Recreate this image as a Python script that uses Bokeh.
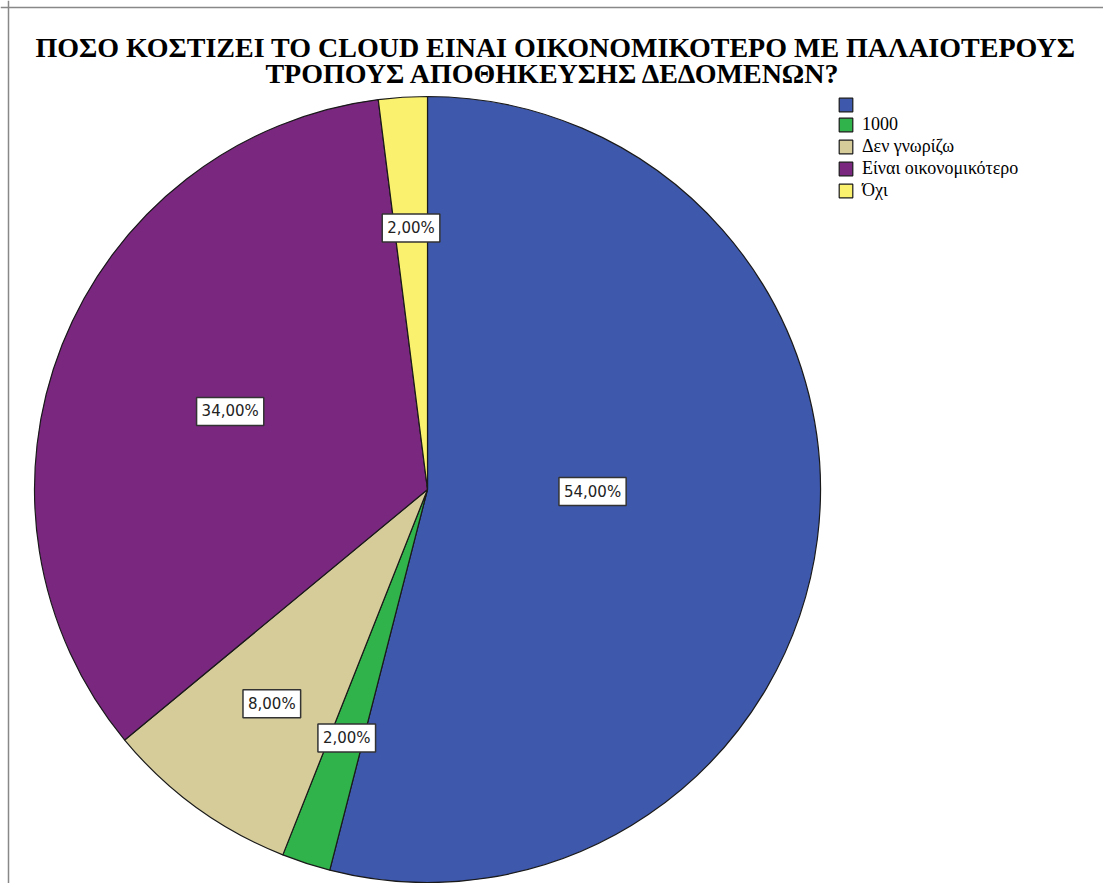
import math
from bokeh.plotting import figure
from bokeh.models import Range1d, Legend, LegendItem, Span, ColumnDataSource
from bokeh.core.properties import value
from bokeh.embed import file_html
from bokeh.resources import INLINE

# ---- data ----
categories = ["", "1000", "Δεν γνωρίζω", "Είναι οικονομικότερο", "Όχι"]
percents = [54.0, 2.0, 8.0, 34.0, 2.0]
colors = ["#3E58AC", "#2FB34A", "#D5CC9A", "#7A2780", "#FAF26E"]
title_lines = ["ΠΟΣΟ ΚΟΣΤΙΖΕΙ ΤΟ CLOUD ΕΙΝΑΙ ΟΙΚΟΝΟΜΙΚΟΤΕΡΟ ΜΕ ΠΑΛΑΙΟΤΕΡΟΥΣ",
               "ΤΡΟΠΟΥΣ ΑΠΟΘΗΚΕΥΣΗΣ ΔΕΔΟΜΕΝΩΝ?"]

# ---- layout ----
W, H = 1103, 883
cx, cy, R = 427, H - 489, 393
label_rfrac = [0.42, 0.665, 0.674, 0.54, 0.667]
label_dtheta = [-6.5, 0, 0, 0, 0]
SERIF = '"Liberation Serif", serif'

total = sum(percents)
starts, ends, lx, ly, ltxt = [], [], [], [], []
cum = 0.0
for i, v in enumerate(percents):
    f0 = cum / total
    f1 = (cum + v) / total
    cum += v
    starts.append(math.pi / 2 - 2 * math.pi * f1)
    ends.append(math.pi / 2 - 2 * math.pi * f0)
    th = 2 * math.pi * (f0 + f1) / 2 + math.radians(label_dtheta[i])
    r = R * label_rfrac[i]
    lx.append(cx + r * math.sin(th))
    ly.append(cy + r * math.cos(th))
    ltxt.append(f"{v:.2f}%".replace(".", ","))

p = figure(width=W, height=H, x_range=Range1d(0, W), y_range=Range1d(0, H),
           output_backend="svg", toolbar_location=None, min_border=0,
           x_axis_location=None, y_axis_location=None)
p.grid.visible = False
p.outline_line_color = None
p.background_fill_color = "white"
p.border_fill_color = "white"

src = ColumnDataSource(dict(cat=categories, start=starts, end=ends, color=colors))
wr = p.wedge(x=cx, y=cy, radius=R, start_angle="start", end_angle="end",
             fill_color="color", line_color="#1a1a1a", line_width=1.2, source=src)

p.text(x=lx, y=ly, text=ltxt, text_align="center", text_baseline="middle",
       text_font=value("DejaVu Sans"), text_font_size="15px", text_color="#222222",
       background_fill_color="white", border_line_color="#333333", border_line_width=1.5,
       padding=5)

# title
p.text(x=[555, 553], y=[H - 47, H - 73], text=title_lines, text_align="center",
       text_baseline="middle", text_font=value(SERIF),
       text_font_style="bold", text_font_size="28px", text_color="black")

# frame lines
p.add_layout(Span(location=H - 7, dimension="width", line_color="#888888", line_width=1.5))
p.add_layout(Span(location=8, dimension="height", line_color="#888888", line_width=1.5))

items = [LegendItem(label=c if c else " ", renderers=[wr], index=i) for i, c in enumerate(categories)]
legend = Legend(items=items, location=(837, H - 97 - 104), padding=0, margin=0,
                border_line_color=None, background_fill_alpha=0,
                glyph_width=17, glyph_height=17, label_height=17, spacing=1,
                label_standoff=8, label_text_font=SERIF, label_text_font_size="18px",
                label_text_color="black")
p.add_layout(legend)

open("out.html", "w").write(file_html(p, INLINE))
